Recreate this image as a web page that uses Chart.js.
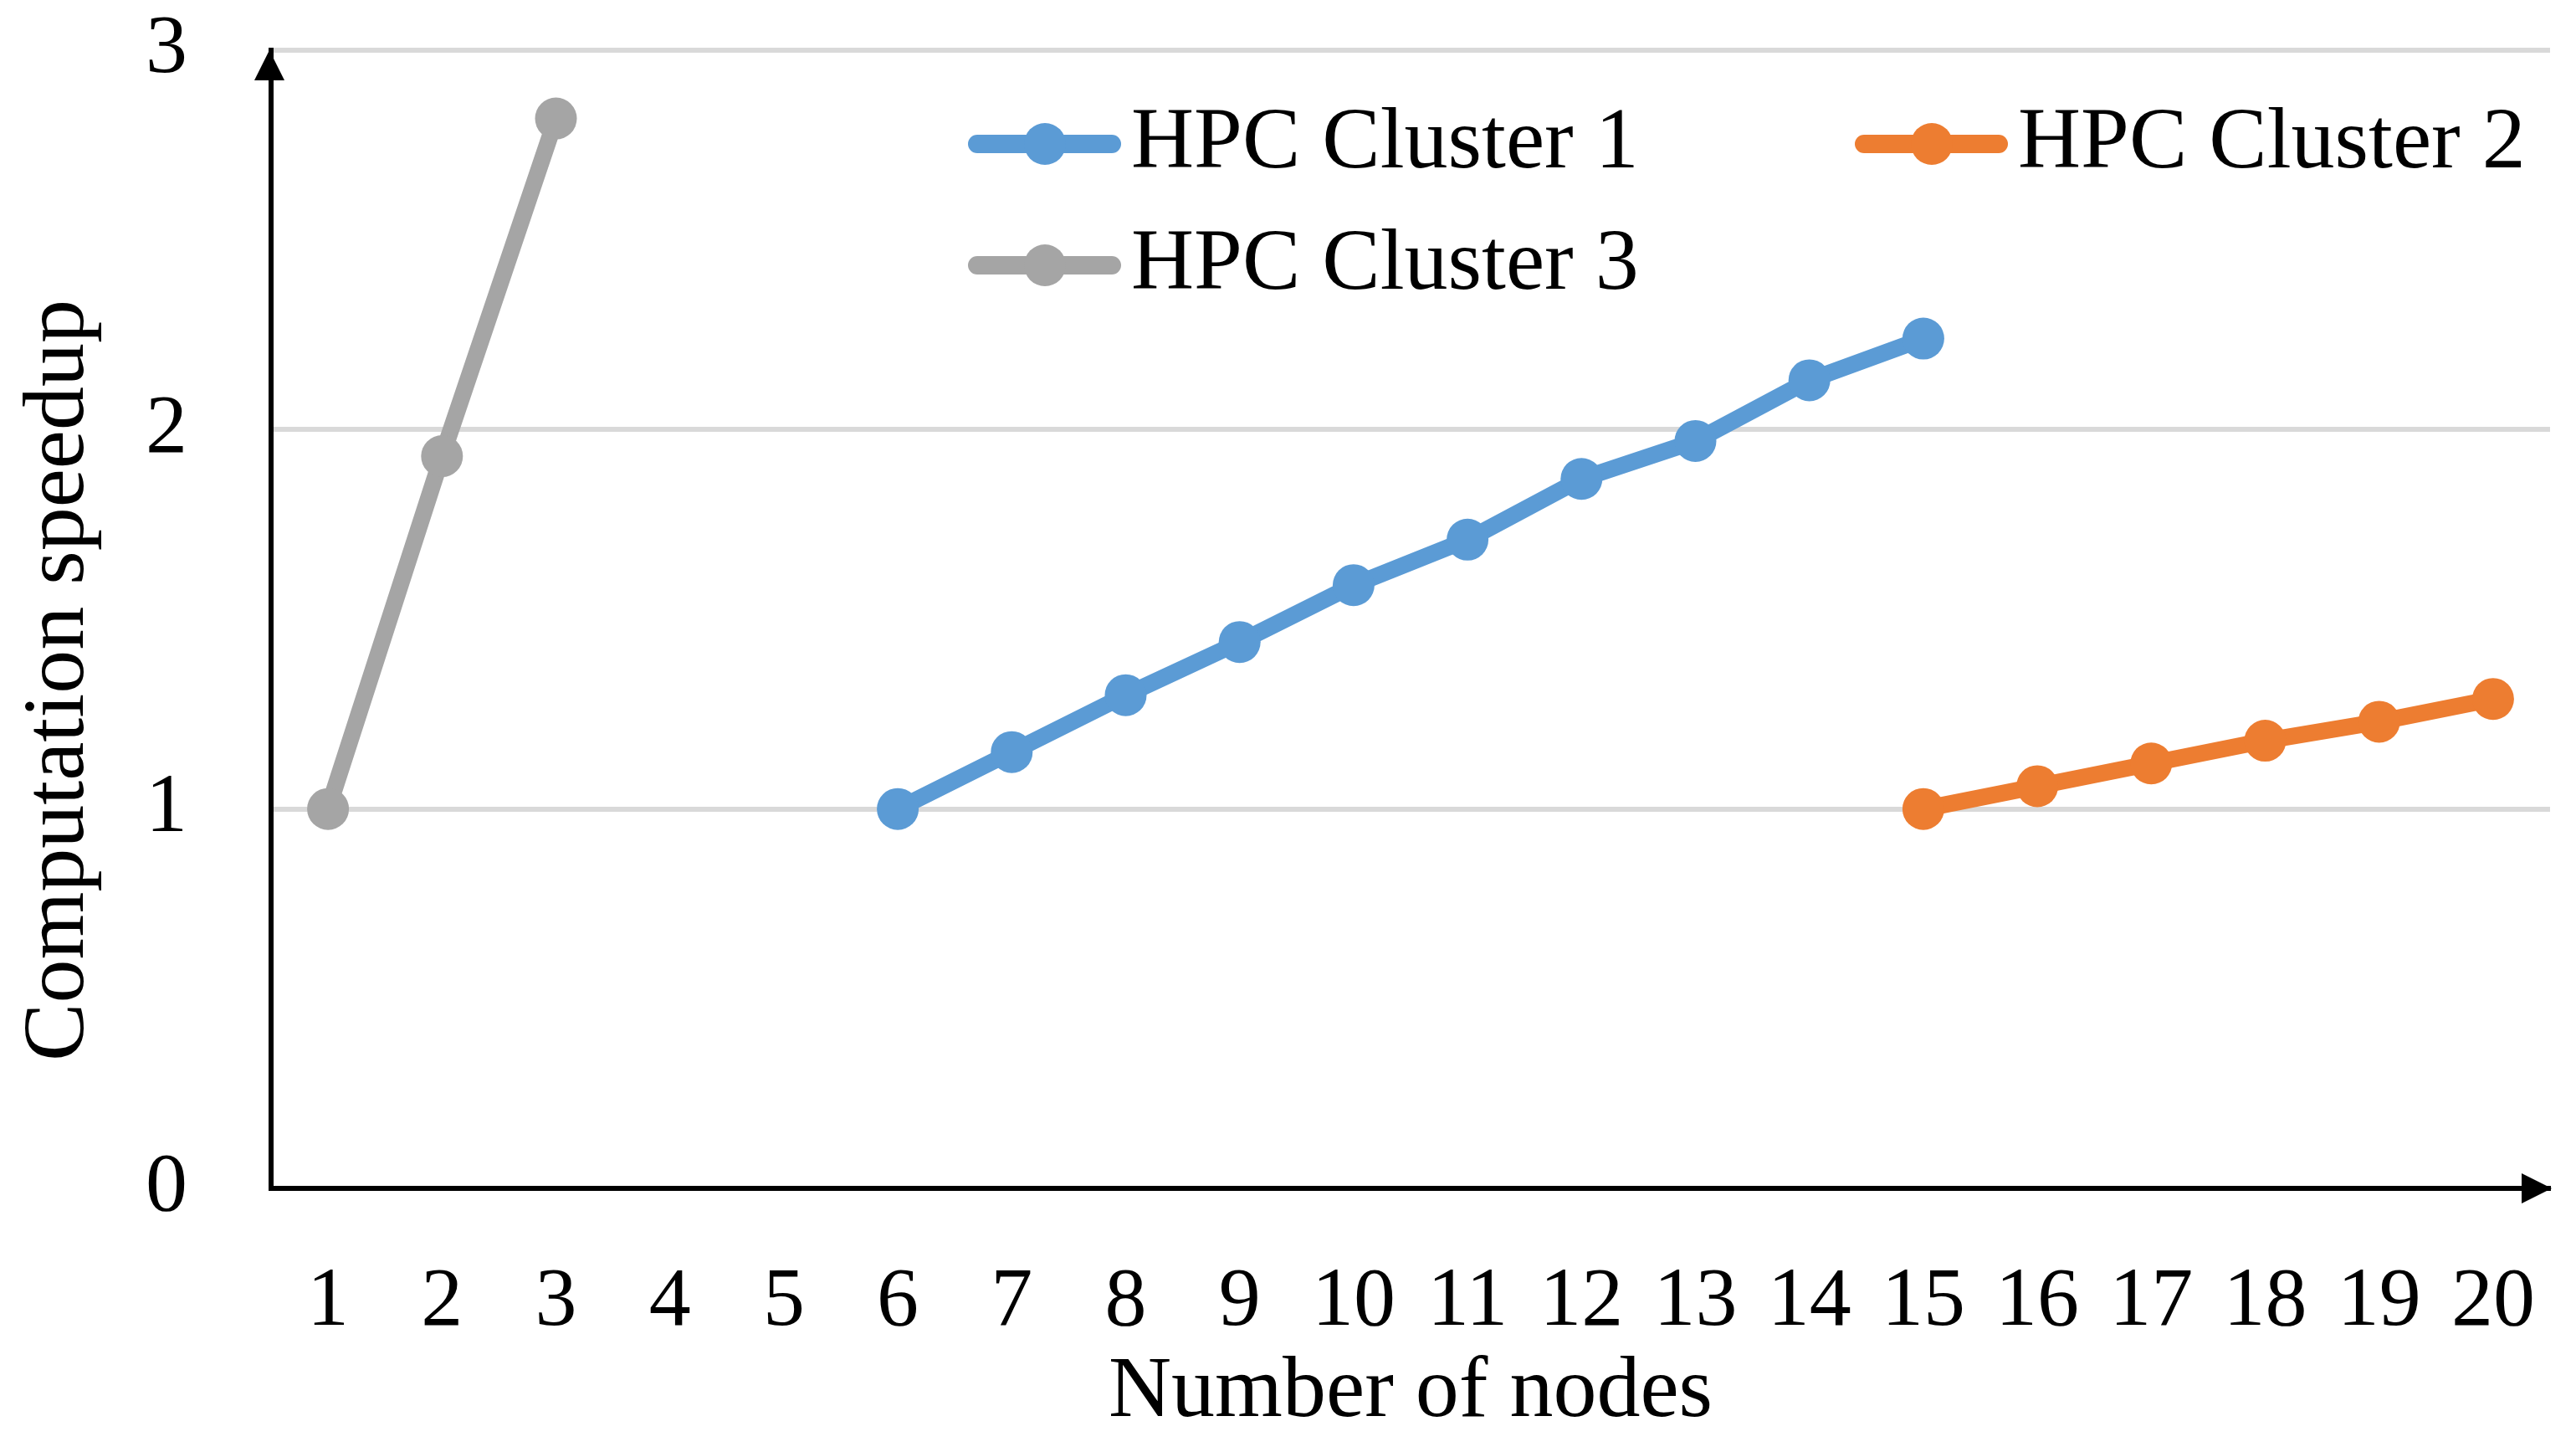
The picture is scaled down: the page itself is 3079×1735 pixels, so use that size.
<!DOCTYPE html>
<html>
<head>
<meta charset="utf-8">
<title>Computation speedup by number of nodes</title>
<script src="https://cdn.jsdelivr.net/npm/chart.js@4.4.1/dist/chart.umd.min.js"></script>
<style>
    html, body { margin: 0; padding: 0; background: #ffffff; }
    #speedupChart { display: block; }
</style>
</head>
<body>
<canvas id="speedupChart" width="3079" height="1735"></canvas>
<script>
// Number of nodes (x axis categories)
const nodes = ['1', '2', '3', '4', '5', '6', '7', '8', '9', '10',
               '11', '12', '13', '14', '15', '16', '17', '18', '19', '20'];

// Speedup per cluster, null where the cluster was not run
const cluster1 = [null, null, null, null, null, 1.00, 1.15, 1.30, 1.44, 1.59,
                  1.71, 1.87, 1.97, 2.13, 2.24, null, null, null, null, null];
const cluster2 = [null, null, null, null, null, null, null, null, null, null,
                  null, null, null, null, 1.00, 1.06, 1.12, 1.18, 1.23, 1.29];
const cluster3 = [1.00, 1.93, 2.82, null, null, null, null, null, null, null,
                  null, null, null, null, null, null, null, null, null, null];

const seriesNames = ['HPC Cluster 1', 'HPC Cluster 2', 'HPC Cluster 3'];
const seriesColors = ['#5B9BD5', '#ED7D31', '#A5A5A5'];

// y axis ticks
const yTicks = [0, 1, 2, 3];

const xTitle = 'Number of nodes';
const yTitle = 'Computation speedup';

const FONT = '"Liberation Serif", "Times New Roman", serif';
Chart.defaults.font.family = FONT;
Chart.defaults.color = '#000000';

// Build one line dataset per cluster
function makeDataset(name, values, color) {
    return {
        label: name,
        data: values,
        borderColor: color,
        backgroundColor: color,
        borderWidth: 20,
        borderJoinStyle: 'round',
        pointRadius: 25,
        pointHoverRadius: 25,
        pointBorderWidth: 0,
        pointBackgroundColor: color,
        fill: false,
        tension: 0
    };
}

// Arrow heads, rotated y title and the in-plot legend
const chartExtras = {
    id: 'chartExtras',
    afterDraw(chart) {
        const ctx = chart.ctx;
        const area = chart.chartArea;
        ctx.save();

        // arrow on the y axis
        ctx.fillStyle = '#000000';
        ctx.beginPath();
        ctx.moveTo(area.left - 2, area.top);
        ctx.lineTo(area.left - 20, area.top + 36);
        ctx.lineTo(area.left + 16, area.top + 36);
        ctx.closePath();
        ctx.fill();

        // arrow on the x axis
        ctx.beginPath();
        ctx.moveTo(area.right + 2, area.bottom);
        ctx.lineTo(area.right - 34, area.bottom - 18);
        ctx.lineTo(area.right - 34, area.bottom + 18);
        ctx.closePath();
        ctx.fill();

        // y axis title
        ctx.font = '104px ' + FONT;
        ctx.textAlign = 'center';
        ctx.textBaseline = 'middle';
        ctx.translate(72, 813);
        ctx.rotate(-Math.PI / 2);
        ctx.fillText(yTitle, 0, 0);
        ctx.setTransform(1, 0, 0, 1, 0, 0);

        // legend, two columns
        const slots = [{x: 1157, y: 172}, {x: 2217, y: 172}, {x: 1157, y: 317}];
        chart.data.datasets.forEach((ds, i) => {
            const s = slots[i];
            ctx.strokeStyle = ds.borderColor;
            ctx.lineWidth = 22;
            ctx.lineCap = 'round';
            ctx.beginPath();
            ctx.moveTo(s.x + 11, s.y);
            ctx.lineTo(s.x + 172, s.y);
            ctx.stroke();

            ctx.fillStyle = ds.borderColor;
            ctx.beginPath();
            ctx.arc(s.x + 92, s.y, 25, 0, Math.PI * 2);
            ctx.fill();

            ctx.fillStyle = '#000000';
            ctx.textAlign = 'left';
            ctx.textBaseline = 'alphabetic';
            ctx.fillText(ds.label, s.x + 195, s.y + 28);
        });

        ctx.restore();
    }
};

const ctx = document.getElementById('speedupChart').getContext('2d');

new Chart(ctx, {
    type: 'line',
    data: {
        labels: nodes,
        datasets: [
            makeDataset(seriesNames[0], cluster1, seriesColors[0]),
            makeDataset(seriesNames[1], cluster2, seriesColors[1]),
            makeDataset(seriesNames[2], cluster3, seriesColors[2])
        ]
    },
    options: {
        responsive: false,
        devicePixelRatio: 1,
        animation: false,
        spanGaps: false,
        layout: {
            padding: { top: 60, right: 31, bottom: 0, left: 0 }
        },
        plugins: {
            legend: { display: false },
            tooltip: { enabled: false }
        },
        scales: {
            x: {
                type: 'category',
                offset: true,
                grid: { display: false, drawTicks: false },
                border: { display: true, color: '#000000', width: 6 },
                ticks: {
                    font: { size: 100 },
                    padding: 77,
                    maxRotation: 0,
                    autoSkip: false
                },
                title: {
                    display: true,
                    text: xTitle,
                    font: { size: 104 },
                    padding: { top: 0, bottom: 8 }
                },
                afterFit(scale) {
                    scale.height = 315;
                    scale.paddingLeft = 0;
                    scale.paddingRight = 0;
                }
            },
            y: {
                min: yTicks[0],
                max: yTicks[yTicks.length - 1],
                ticks: {
                    stepSize: yTicks[1] - yTicks[0],
                    font: { size: 100 },
                    padding: 100
                },
                grid: {
                    drawTicks: false,
                    lineWidth: 6,
                    color: (c) => (c.tick && c.tick.value === 0) ? 'rgba(0,0,0,0)' : '#D9D9D9'
                },
                border: { display: true, color: '#000000', width: 6 },
                afterFit(scale) {
                    scale.width = 324;
                    scale.paddingTop = 0;
                    scale.paddingBottom = 0;
                }
            }
        }
    },
    plugins: [chartExtras]
});
</script>
</body>
</html>
